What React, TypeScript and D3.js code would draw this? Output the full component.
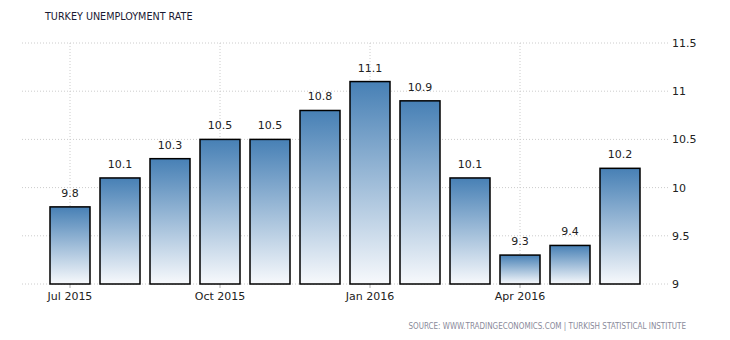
import React from "react";
import * as d3 from "d3";

const months = ["Jul 2015","Aug 2015","Sep 2015","Oct 2015","Nov 2015","Dec 2015","Jan 2016","Feb 2016","Mar 2016","Apr 2016","May 2016","Jun 2016"];
const values = [9.8, 10.1, 10.3, 10.5, 10.5, 10.8, 11.1, 10.9, 10.1, 9.3, 9.4, 10.2];
const xTickLabels = ["Jul 2015", "Oct 2015", "Jan 2016", "Apr 2016"];
const yTicks = [9, 9.5, 10, 10.5, 11, 11.5];

export default function App() {
  const W = 730, H = 340;
  const x = d3.scaleBand().domain(months).range([45, 645]).paddingInner(0.2).paddingOuter(0.1);
  const y = d3.scaleLinear().domain([9, 11.5]).range([284, 43]);
  const font = "Tahoma, 'DejaVu Sans', Verdana, sans-serif";
  return (
    <svg width={W} height={H} style={{ position: "absolute", left: 0, top: 0, background: "#fff" }} fontFamily={font}>
      <defs>
        <linearGradient id="barGrad" x1="0" y1="0" x2="0" y2="1">
          <stop offset="0%" stopColor="#4780b5" />
          <stop offset="100%" stopColor="#f7f9fc" />
        </linearGradient>
      </defs>
      <text x={45} y={20} fontSize={10.7} fill="#1a1a33" fontFamily="'DejaVu Sans Condensed', 'DejaVu Sans', sans-serif">TURKEY UNEMPLOYMENT RATE</text>
      {yTicks.map((t) => (
        <g key={t}>
          <line x1={22} x2={668} y1={y(t)} y2={y(t)} stroke="#cccccc" strokeDasharray="1,2" />
          <text x={672} y={y(t) + 4} fontSize={11} fill="#222">{t}</text>
        </g>
      ))}
      {xTickLabels.map((m) => {
        const cx = (x(m) as number) + x.bandwidth() / 2;
        return (
          <g key={m}>
            <line x1={cx} x2={cx} y1={y(11.5)} y2={y(9)} stroke="#cccccc" strokeDasharray="1,2" />
            <line x1={cx} x2={cx} y1={y(9)} y2={y(9) + 4} stroke="#aaa" />
            <text x={cx} y={y(9) + 16} fontSize={11} fill="#222" textAnchor="middle">{m}</text>
          </g>
        );
      })}
      {months.map((m, i) => {
        const bx = x(m) as number;
        const by = y(values[i]);
        return (
          <g key={m}>
            <rect x={bx} y={by} width={x.bandwidth()} height={y(9) - by} fill="url(#barGrad)" stroke="#000" strokeWidth={1.5} />
            <text x={bx + x.bandwidth() / 2} y={by - 10} fontSize={11} fill="#222" textAnchor="middle">{values[i]}</text>
          </g>
        );
      })}
      <text x={686} y={329} fontSize={8} fill="#8a8a9a" textAnchor="end" fontFamily="'DejaVu Sans Condensed', 'DejaVu Sans', sans-serif">SOURCE: WWW.TRADINGECONOMICS.COM | TURKISH STATISTICAL INSTITUTE</text>
    </svg>
  );
}
